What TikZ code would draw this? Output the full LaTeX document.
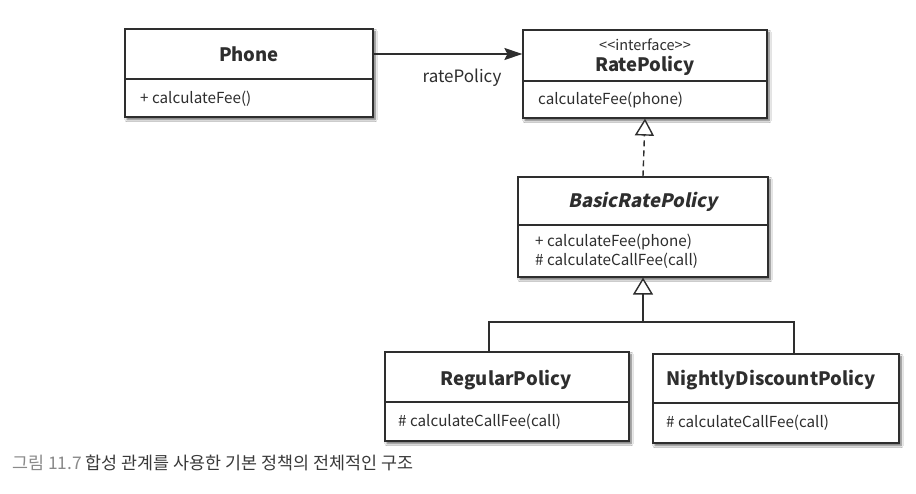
\documentclass[tikz,border=0pt]{standalone}
\usepackage{fontspec}
\setmainfont{Noto Sans CJK KR}
\newfontfamily\boldit{Noto Sans CJK KR}[FakeSlant=0.2]
\usetikzlibrary{arrows.meta,shadows.blur}
\definecolor{ink}{HTML}{2E2E2E}
\definecolor{capgray}{HTML}{8A8A8A}
\definecolor{capdark}{HTML}{3A3A3A}
\tikzset{
  classbox/.style={draw=ink, line width=1.2pt, fill=white, inner sep=0pt,
    blur shadow={shadow xshift=2pt, shadow yshift=-2.5pt, shadow blur steps=6, shadow opacity=60}},
  divider/.style={draw=ink, line width=1.1pt},
  ctitle/.style={text=ink, font=\fontsize{18.5}{22}\selectfont\bfseries, inner sep=0pt},
  cstereo/.style={text=ink, font=\fontsize{14.5}{16}\selectfont, inner sep=0pt},
  cmember/.style={text=ink, font=\fontsize{15.2}{18}\selectfont, inner sep=0pt, anchor=west},
  assoc/.style={draw=ink, line width=1.5pt, -{Stealth[length=18pt, width=12pt, inset=3pt]}},
  realize/.style={draw=ink, line width=1.4pt, dash pattern=on 6pt off 4pt,
    -{Triangle[open, length=17pt, width=19pt, fill=white, line width=1.4pt]}},
  genline/.style={draw=ink, line width=1.4pt},
  gen/.style={draw=ink, line width=1.4pt, -{Triangle[open, length=17pt, width=20pt, fill=white, line width=1.4pt]}},
  lbl/.style={text=ink, font=\fontsize{17}{20}\selectfont, inner sep=0pt}
}
\begin{document}
\begin{tikzpicture}[x=1pt, y=-1pt]
\useasboundingbox[fill=white] (0,0) rectangle (916,493);

% Phone
\node[classbox, minimum width=248pt, minimum height=88pt] (phone) at (249,73) {};
\draw[divider] (phone.west |- 0,79) -- (phone.east |- 0,79);
\node[ctitle] (phoneT) at (249,54) {Phone};
\node[cmember] (phoneM) at (140,99) {+ calculateFee()};

% RatePolicy
\node[classbox, minimum width=244pt, minimum height=88pt] (rate) at (645,74) {};
\draw[divider] (rate.west |- 0,81) -- (rate.east |- 0,81);
\node[cstereo] (rateS) at (645,45) {<{}<interface>{}>};
\node[ctitle] (rateT) at (645,66) {RatePolicy};
\node[cmember] (rateM) at (538,100) {calculateFee(phone)};

% BasicRatePolicy
\node[classbox, minimum width=250pt, minimum height=100pt] (basic) at (643,227) {};
\draw[divider] (basic.west |- 0,225) -- (basic.east |- 0,225);
\node[ctitle, font=\fontsize{18.5}{22}\selectfont\boldit\bfseries] (basicT) at (643,202) {BasicRatePolicy};
\node[cmember] (basicM1) at (535,242) {+ calculateFee(phone)};
\node[cmember] (basicM2) at (535,261) {\# calculateCallFee(call)};

% RegularPolicy
\node[classbox, minimum width=244pt, minimum height=89pt] (regular) at (507,396.5) {};
\draw[divider] (regular.west |- 0,402) -- (regular.east |- 0,402);
\node[ctitle] (regularT) at (506,380) {RegularPolicy};
\node[cmember] (regularM) at (398,422) {\# calculateCallFee(call)};

% NightlyDiscountPolicy
\node[classbox, minimum width=246pt, minimum height=89pt] (nightly) at (776,398.5) {};
\draw[divider] (nightly.west |- 0,403) -- (nightly.east |- 0,403);
\node[ctitle] (nightlyT) at (771,380) {NightlyDiscountPolicy};
\node[cmember] (nightlyM) at (666,423) {\# calculateCallFee(call)};

% association
\draw[assoc] (phone.east |- phoneT) -- (rate.west |- phoneT);
\node[lbl] (assocL) at (462,78) {ratePolicy};

% realization
\draw[realize] (basic.north) -- (rate.south);

% generalization
\coordinate (bar) at (643,322);
\coordinate (jr) at (489,322);
\coordinate (jn) at (794,322);
\draw[genline] (regular.north -| jr) -- (jr) -- (jn) -- (nightly.north -| jn);
\draw[gen] (bar) -- (basic.south);

% caption
\node[anchor=base west, inner sep=0pt, font=\fontsize{17.4}{20}\selectfont] (caption) at (12,469)
  {\textcolor{capgray}{그림 11.7} \textcolor{capdark}{합성 관계를 사용한 기본 정책의 전체적인 구조}};
\end{tikzpicture}
\end{document}
